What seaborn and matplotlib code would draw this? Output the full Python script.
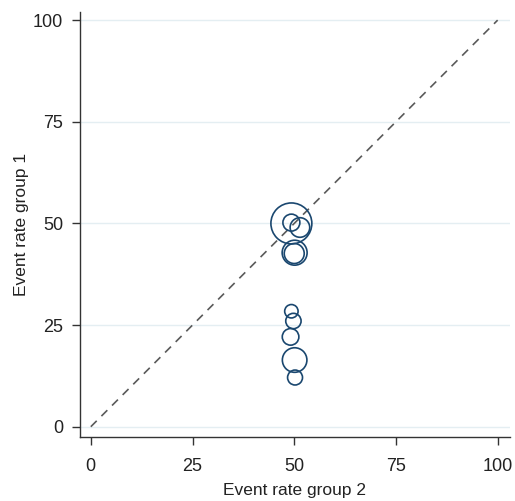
import numpy as np
import pandas as pd
import matplotlib
matplotlib.use("Agg")
import matplotlib.pyplot as plt
import seaborn as sns

# Data
rate_group2 = [49.3, 49.3, 51.4, 50.1, 50.0, 49.3, 49.8, 49.1, 50.1, 50.2]
rate_group1 = [50.0, 50.2, 49.0, 42.8, 42.6, 28.4, 26.0, 22.1, 16.4, 12.1]
weights = [420, 72, 96, 156, 100, 45, 59, 69, 151, 56]
ticks = [0, 25, 50, 75, 100]

df = pd.DataFrame({"g2": rate_group2, "g1": rate_group1, "w": weights})

sns.set_theme(style="white")
plt.rcParams["font.family"] = ["Liberation Sans", "DejaVu Sans"]

fig = plt.figure(figsize=(5.15, 5.01), dpi=100)
ax = fig.add_axes([0.155, 0.128, 0.835, 0.848])

for t in ticks:
    ax.axhline(t, color="#e4eef2", lw=1.0, zorder=0)

ax.plot([0, 100], [0, 100], ls=(0, (5, 4)), color="#5a5a5a", lw=1.2, zorder=1)

k = 2.07
sns.scatterplot(data=df, x="g2", y="g1", size="w",
                sizes=(min(weights) * k, max(weights) * k),
                facecolors="none", edgecolor="#1a476f", linewidth=1.2,
                legend=False, ax=ax, zorder=3)

ax.set_xlim(-2.7, 103)
ax.set_ylim(-2.5, 102)
ax.set_xticks(ticks)
ax.set_yticks(ticks)
ax.tick_params(axis="both", which="both", direction="out", length=6, width=1,
               color="#333333", labelsize=13, labelcolor="#222222",
               bottom=True, left=True)
ax.tick_params(axis="x", pad=9)
ax.tick_params(axis="y", pad=6)
for s in ["top", "right"]:
    ax.spines[s].set_visible(False)
for s in ["left", "bottom"]:
    ax.spines[s].set_color("#333333")
    ax.spines[s].set_linewidth(1.0)

ax.set_xlabel("Event rate group 2", fontsize=12.5, color="#222222", labelpad=6)
ax.set_ylabel("Event rate group 1", fontsize=12.5, color="#222222", labelpad=3)

fig.savefig("out.png", dpi=100, facecolor="white")
